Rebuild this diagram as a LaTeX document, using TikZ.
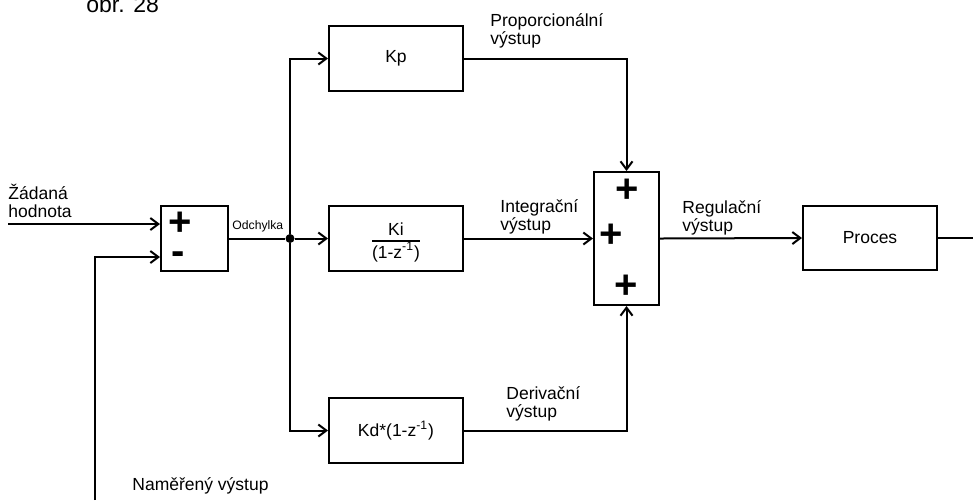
\documentclass[tikz,border=0pt]{standalone}
\usepackage{fontspec}
\setmainfont{Liberation Sans}
\usetikzlibrary{arrows.meta}
\tikzset{
  blk/.style={draw, line width=1pt, rectangle, inner sep=0pt, font=\fontsize{8.75}{8.75}\selectfont},
  arr/.style={line width=1pt, -{Straight Barb[length=4pt,width=6pt,line width=1pt]}},
  wire/.style={line width=1pt},
  lbl/.style={anchor=base west, inner sep=0pt, font=\fontsize{8.75}{9}\selectfont},
  sgn/.style={inner sep=0pt, font=\fontsize{20}{20}\selectfont\bfseries},
  dot/.style={circle, fill, inner sep=0pt, minimum size=4.5pt}
}
\begin{document}
\begin{tikzpicture}[x=0.5pt, y=-0.5pt]
\path[use as bounding box] (0,0) rectangle (973,500);

% title
\node[anchor=base west, inner sep=0pt, font=\fontsize{11.5}{11.5}\selectfont] (title) at (86,12) {obr. 28};

% blocks
\node[blk, minimum width=33.5pt, minimum height=32.5pt] (sum1) at (194.5,238.5) {};
\node[sgn] (s1p) at (180,224) {+};
\node[sgn] (s1m) at (178,258) {-};

\node[blk, minimum width=67pt, minimum height=32.5pt] (Kp) at (396,58.5) {Kp};
\node[blk, minimum width=67pt, minimum height=32.5pt] (Ki) at (396,238.5) {};
\node[inner sep=0pt, font=\fontsize{8.75}{9}\selectfont] (Kifrac) at (396,243) {%
  \setlength{\arrayrulewidth}{1pt}\renewcommand{\arraystretch}{0.95}%
  \begin{tabular}{@{}c@{}}Ki\\\hline(1-z\textsuperscript{-1})\end{tabular}};
\node[blk, minimum width=67pt, minimum height=32.5pt] (Kd) at (396,430.5) {Kd*(1-z\textsuperscript{-1})};

\node[blk, minimum width=32.5pt, minimum height=66.5pt] (sum2) at (626.5,238.5) {};
\node[sgn] (s2a) at (627,191) {+};
\node[sgn] (s2b) at (611,236) {+};
\node[sgn] (s2c) at (626,287) {+};

\node[blk, minimum width=67pt, minimum height=32pt] (Proc) at (870,238) {Proces};

% connectors
\coordinate (zin) at (8,224);
\draw[arr] (zin) -- (zin -| sum1.west);
\coordinate (fb) at (95,500);
\draw[arr] (fb) |- (sum1.west |- 0,257);

\node[dot] (j) at (290,238.5) {};
\draw[wire] (sum1.east) -- (j);
\draw[arr] (j) -- (Ki.west);
\draw[arr] (j) |- (Kp.west);
\draw[arr] (j) |- (Kd.west);

\draw[arr] (Kp.east) -| (sum2.north);
\draw[arr] (Ki.east) -- (sum2.west);
\draw[arr] (Kd.east) -| (sum2.south);
\draw[arr] (sum2.east) -- (Proc.west);
\coordinate (out) at (973,238);
\draw[wire] (Proc.east) -- (out);

% labels
\node[lbl] (l1) at (8,199) {\begin{tabular}[t]{@{}l@{}}Žádaná\\hodnota\end{tabular}};
\node[anchor=base west, inner sep=0pt, font=\fontsize{6.1}{6.1}\selectfont] (l2) at (232,229) {Odchylka};
\node[lbl] (l3) at (490,26) {\begin{tabular}[t]{@{}l@{}}Proporcionální\\výstup\end{tabular}};
\node[lbl] (l4) at (500,212) {\begin{tabular}[t]{@{}l@{}}Integrační\\výstup\end{tabular}};
\node[lbl] (l5) at (506,399) {\begin{tabular}[t]{@{}l@{}}Derivační\\výstup\end{tabular}};
\node[lbl] (l6) at (682,213) {\begin{tabular}[t]{@{}l@{}}Regulační\\výstup\end{tabular}};
\node[lbl] (l7) at (132,490) {Naměřený výstup};
\end{tikzpicture}
\end{document}
